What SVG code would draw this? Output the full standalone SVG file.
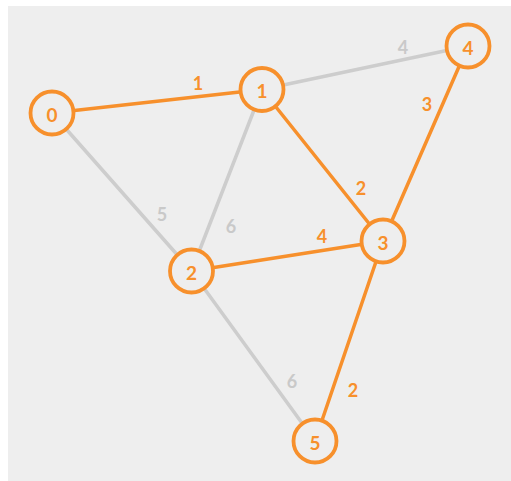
<svg xmlns="http://www.w3.org/2000/svg" width="511" height="481" viewBox="0 0 511 481">
  <style>
    .edge { stroke-width: 3.5; stroke-linecap: round; }
    .tree { stroke: #f7902c; }
    .rest { stroke: #cdcdcd; }
    .node circle { fill: #eeeeee; stroke: #f7902c; stroke-width: 3.8; }
    .node text { fill: #f7902c; font-family: Lato, "Open Sans", sans-serif; font-weight: bold; font-size: 19px; text-anchor: middle; dominant-baseline: central; }
    .w { font-family: Lato, "Open Sans", sans-serif; font-weight: bold; font-size: 18px; text-anchor: middle; dominant-baseline: central; }
    .wt { fill: #f7902c; }
    .wr { fill: #c9c9c9; }
  </style>

  <rect x="0" y="0" width="511" height="481" fill="#ffffff"/>
  <rect x="8" y="6" width="503" height="475" fill="#eeeeee"/>

  <g id="connectors">
    <line class="edge rest" x1="262" y1="89.5" x2="468" y2="46"/>
    <line class="edge rest" x1="52" y1="113" x2="191.5" y2="271"/>
    <line class="edge rest" x1="262" y1="89.5" x2="191.5" y2="271"/>
    <line class="edge rest" x1="191.5" y1="271" x2="315" y2="441"/>
    <line class="edge tree" x1="52" y1="113" x2="262" y2="89.5"/>
    <line class="edge tree" x1="262" y1="89.5" x2="383" y2="241"/>
    <line class="edge tree" x1="191.5" y1="271" x2="383" y2="241"/>
    <line class="edge tree" x1="383" y1="241" x2="468" y2="46"/>
    <line class="edge tree" x1="383" y1="241" x2="315" y2="441"/>

    <text class="w wt" x="198" y="83">1</text>
    <text class="w wr" x="403" y="47">4</text>
    <text class="w wr" x="162" y="214">5</text>
    <text class="w wr" x="231" y="226">6</text>
    <text class="w wt" x="361" y="188">2</text>
    <text class="w wt" x="322" y="236">4</text>
    <text class="w wt" x="427" y="104">3</text>
    <text class="w wr" x="292" y="381">6</text>
    <text class="w wt" x="353" y="390">2</text>
  </g>

  <g id="n0" class="node"><circle cx="52" cy="113" r="21.5"/><text x="52" y="114">0</text></g>
  <g id="n1" class="node"><circle cx="262" cy="89.5" r="21.5"/><text x="262" y="90.5">1</text></g>
  <g id="n2" class="node"><circle cx="191.5" cy="271" r="21.5"/><text x="191.5" y="272">2</text></g>
  <g id="n3" class="node"><circle cx="383" cy="241" r="21.5"/><text x="383" y="242">3</text></g>
  <g id="n4" class="node"><circle cx="468" cy="46" r="21.5"/><text x="468" y="47">4</text></g>
  <g id="n5" class="node"><circle cx="315" cy="441" r="21.5"/><text x="315" y="442">5</text></g>
</svg>
